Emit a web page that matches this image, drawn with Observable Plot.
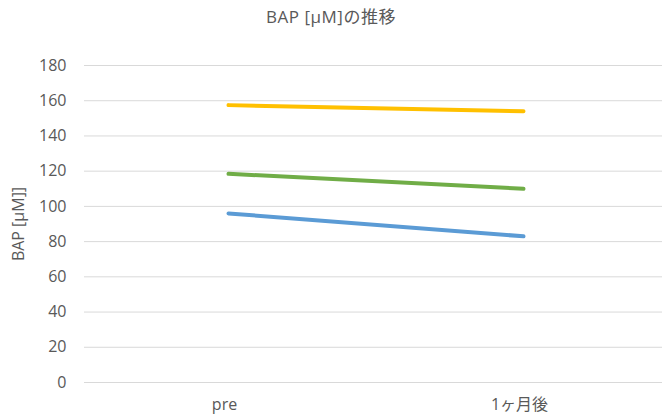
<!DOCTYPE html>
<html><head><meta charset="utf-8">
<script src="https://cdn.jsdelivr.net/npm/d3@7"></script>
<script src="https://cdn.jsdelivr.net/npm/@observablehq/plot@0.6"></script>
<style>
body{margin:0;background:#fff;font-family:"Open Sans","Noto Sans CJK JP",sans-serif;}
#title{height:40px;line-height:34px;text-align:center;font-size:17px;color:#595959;letter-spacing:0.5px;}
</style></head>
<body>
<div id="title">BAP [μM]の推移</div>
<div id="chart"></div>
<script>
const timepoints = ["pre", "1ヶ月後"];
const seriesNames = ["系列1", "系列2", "系列3"];
const seriesValues = [
  [96, 83],
  [118.5, 110],
  [157.5, 154]
];
const seriesColors = ["#5B9BD5", "#70AD47", "#FFC000"];
const yTicks = [0, 20, 40, 60, 80, 100, 120, 140, 160, 180];

const data = seriesNames.flatMap((s, i) => timepoints.map((t, j) => ({series: s, time: t, value: seriesValues[i][j]})));

const chart = Plot.plot({
  width: 662,
  height: 378,
  marginLeft: 84,
  marginRight: 0,
  marginTop: 25,
  marginBottom: 36,
  style: {fontFamily: '"Open Sans","Noto Sans CJK JP",sans-serif', fontSize: "16px", color: "#595959", background: "#fff"},
  x: {type: "point", domain: timepoints, range: [228, 523], padding: 0, label: null},
  y: {domain: [0, 180], label: null},
  color: {domain: seriesNames, range: seriesColors},
  marks: [
    Plot.ruleY(yTicks, {stroke: "#d9d9d9", strokeWidth: 1}),
    Plot.axisY({ticks: yTicks, tickSize: 0, tickPadding: 18, label: null, fontSize: 16}),
    Plot.axisX({tickSize: 0, tickPadding: 16, label: null, fontSize: 16, dx: -4}),
    Plot.text(["BAP [μM]]"], {frameAnchor: "left", dx: -66, rotate: -90, textAnchor: "middle", fontSize: 16, fill: "#595959"}),
    Plot.line(data, {x: "time", y: "value", z: "series", stroke: "series", strokeWidth: 4, strokeLinecap: "round"})
  ]
});
document.getElementById("chart").appendChild(chart);
</script>
</body></html>
